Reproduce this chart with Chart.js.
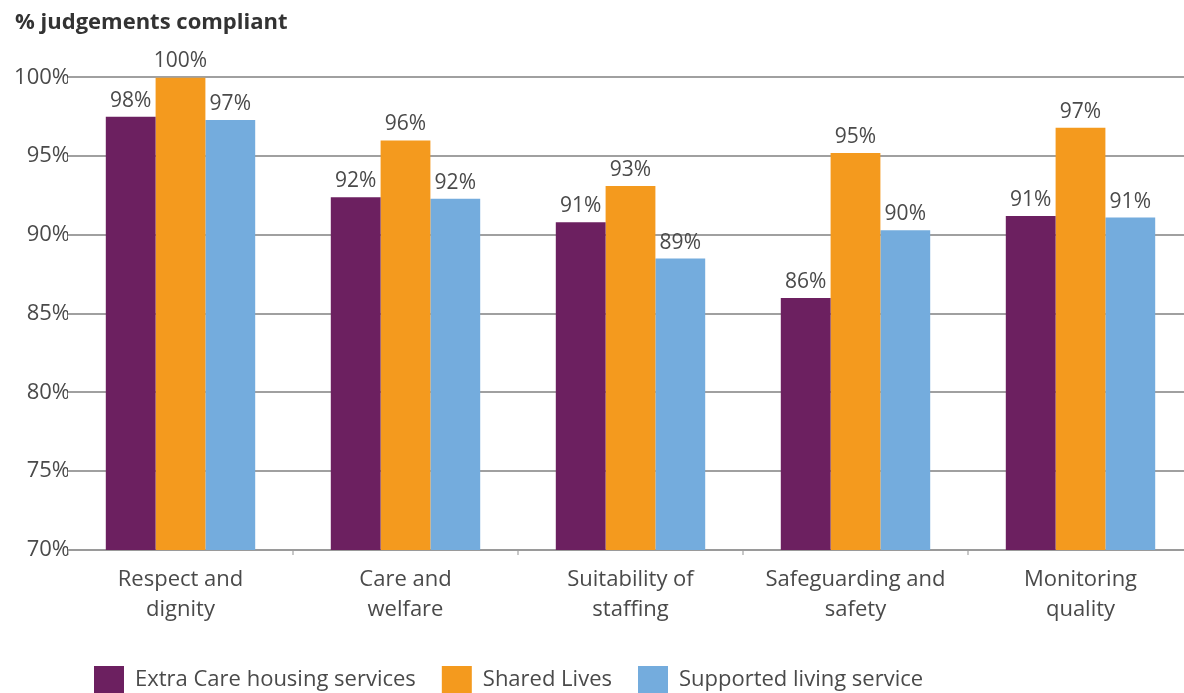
<!DOCTYPE html>
<html>
<head>
<meta charset="utf-8">
<script src="https://cdn.jsdelivr.net/npm/chart.js@4.4.0/dist/chart.umd.min.js"></script>
<style>
  html, body { margin: 0; padding: 0; background: #fff; overflow: hidden; }
  #wrap { width: 1193px; height: 703px; position: relative; }
</style>
</head>
<body>
<div id="wrap"><canvas id="chart"></canvas></div>
<script>
// categories and series
const categories = [
  ['Respect and', 'dignity'],
  ['Care and', 'welfare'],
  ['Suitability of', 'staffing'],
  ['Safeguarding and', 'safety'],
  ['Monitoring', 'quality']
];
const extraCare = [97.5, 92.4, 90.8, 86.0, 91.2];
const sharedLives = [100, 96.0, 93.1, 95.2, 96.8];
const supportedLiving = [97.3, 92.3, 88.5, 90.3, 91.1];
const yTicks = [70, 75, 80, 85, 90, 95, 100];

const textColor = '#4a4a4a';
const fontName = '"Open Sans", "Noto Sans", sans-serif';

// value labels above each bar
const barLabels = {
  id: 'barLabels',
  afterDatasetsDraw(chart) {
    const ctx = chart.ctx;
    ctx.save();
    ctx.font = '21px ' + fontName;
    ctx.fillStyle = textColor;
    ctx.textAlign = 'center';
    ctx.textBaseline = 'alphabetic';
    chart.data.datasets.forEach((ds, i) => {
      chart.getDatasetMeta(i).data.forEach((bar, j) => {
        ctx.fillText(Math.round(ds.data[j]) + '%', bar.x, bar.y - 10);
      });
    });
    ctx.restore();
  }
};

const ctx = document.getElementById('chart').getContext('2d');
new Chart(ctx, {
  type: 'bar',
  data: {
    labels: categories,
    datasets: [
      { label: 'Extra Care housing services', data: extraCare, backgroundColor: '#6c2060' },
      { label: 'Shared Lives', data: sharedLives, backgroundColor: '#f49a1e' },
      { label: 'Supported living service', data: supportedLiving, backgroundColor: '#74acdd' }
    ]
  },
  options: {
    responsive: true,
    maintainAspectRatio: false,
    animation: false,
    layout: { padding: { left: 15, right: 0, top: 0, bottom: 0 } },
    datasets: {
      bar: { categoryPercentage: 0.664, barPercentage: 1.0 }
    },
    scales: {
      x: {
        grid: { display: true, drawOnChartArea: false, drawTicks: true, tickLength: 5, color: '#c8c8c8', lineWidth: 2 },
        border: { color: '#9a9a9a', width: 2 },
        ticks: {
          color: textColor,
          font: { family: fontName, size: 22, lineHeight: 1.36 },
          padding: 10,
          maxRotation: 0,
          autoSkip: false
        },
        afterFit(scale) { scale.height = 90; }
      },
      y: {
        min: 70,
        max: 100,
        afterBuildTicks(scale) { scale.ticks = yTicks.map(v => ({ value: v })); },
        grid: { color: '#a0a0a0', lineWidth: 2, drawTicks: true, tickLength: 1 },
        border: { display: false },
        ticks: {
          color: textColor,
          font: { family: fontName, size: 22 },
          padding: -3,
          callback: v => v + '%'
        },
        afterFit(scale) { scale.width = 53; }
      }
    },
    plugins: {
      title: {
        display: true,
        text: '% judgements compliant',
        align: 'start',
        color: '#333',
        font: { family: fontName, size: 22, weight: 'bold' },
        padding: { top: 10, bottom: 41 }
      },
      legend: {
        position: 'bottom',
        align: 'start',
        fullSize: false,
        labels: {
          color: textColor,
          font: { family: fontName, size: 22 },
          boxWidth: 30,
          boxHeight: 27,
          padding: 26
        }
      },
      tooltip: { enabled: false }
    }
  },
  plugins: [barLabels]
});
</script>
</body>
</html>
